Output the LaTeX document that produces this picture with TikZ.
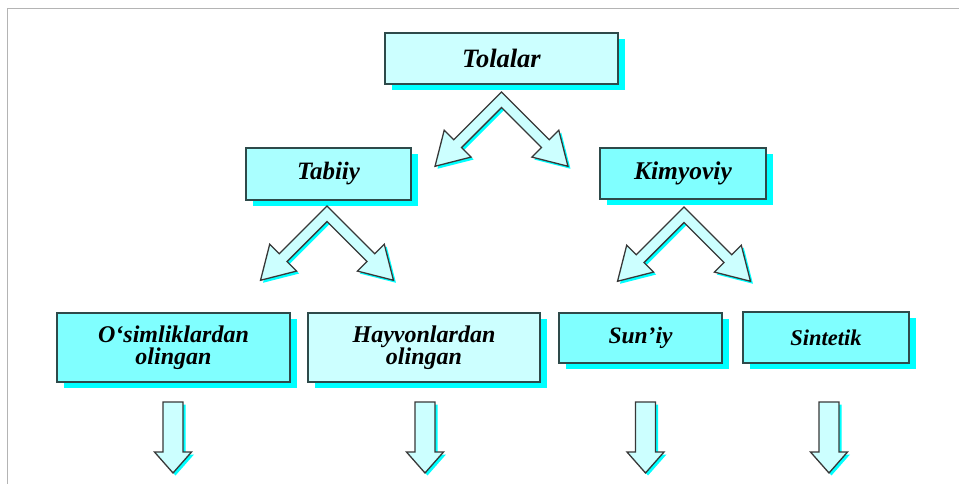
\documentclass[tikz,border=0pt]{standalone}
\usepackage{fontspec}
\setmainfont{Liberation Serif}
\usetikzlibrary{calc,shadows}

\definecolor{paleaqua}{HTML}{CCFFFF}
\definecolor{midaqua}{HTML}{AAFFFF}
\definecolor{deepaqua}{HTML}{80FFFF}
\definecolor{glow}{HTML}{00FFFF}
\definecolor{edgeteal}{HTML}{2E4A4A}
\definecolor{arrowline}{HTML}{383838}
\definecolor{framegray}{HTML}{B4B4B4}

\tikzset{
  box/.style={draw=edgeteal, line width=1.6pt, inner sep=0pt, align=center,
    font=\bfseries\itshape\fontsize{24}{22}\selectfont,
    general shadow={fill=glow, shadow xshift=7pt, shadow yshift=-6pt}},
  % outline of the twin block arrow, apex at the origin (y grows downward)
  chevronoutline/.style={insert path={(0,-7.78) -- (-47.73,39.95) -- (-57.28,30.41)
    -- (-66.47,66.47) -- (-30.41,57.28) -- (-39.95,47.73) -- (0,7.78)
    -- (39.95,47.73) -- (30.41,57.28) -- (66.47,66.47) -- (57.28,30.41)
    -- (47.73,39.95) -- cycle}},
  % outline of the single downward block arrow, top centre at the origin
  dropoutline/.style={insert path={(-10,0) -- (10,0) -- (10,50) -- (18.5,50)
    -- (0,71) -- (-18.5,50) -- (-10,50) -- cycle}},
  blockarrow/.style={fill=paleaqua, draw=arrowline, line width=1.3pt, line join=miter},
  pics/chevron/.style={code={
    \path[shift={(2.5,2.5)}, fill=glow, chevronoutline];
    \path[blockarrow, chevronoutline];
  }},
  pics/dropper/.style={code={
    \path[shift={(2.5,2.5)}, fill=glow, dropoutline];
    \path[blockarrow, dropoutline];
  }},
}

\begin{document}
\begin{tikzpicture}[x=1pt, y=-1pt]
  \useasboundingbox (0,0) rectangle (959,484);

  % page frame
  \draw[framegray, line width=1.6pt] (7.5,484) -- (7.5,8.5) -- (959,8.5);

  % boxes
  \node[box, fill=paleaqua, minimum width=233pt, minimum height=51pt,
        font=\bfseries\itshape\fontsize{26.5}{24}\selectfont]
        (tolalar) at (501.5,58.5) {Tolalar};
  \node[box, fill=midaqua, minimum width=165pt, minimum height=52pt,
        font=\bfseries\itshape\fontsize{25}{24}\selectfont]
        (tabiiy) at (328.5,174) {Tabiiy};
  \node[box, fill=deepaqua, minimum width=166pt, minimum height=51pt,
        font=\bfseries\itshape\fontsize{25.5}{24}\selectfont]
        (kimyo) at (683,173.5) {Kimyoviy};
  \node[box, fill=deepaqua, minimum width=233pt, minimum height=69pt]
        (osim) at (173.5,347.5) {O‘simliklardan\\olingan};
  \node[box, fill=paleaqua, minimum width=232pt, minimum height=69pt]
        (hayv) at (424,347.5) {Hayvonlardan\\olingan};
  \node[box, fill=deepaqua, minimum width=163pt, minimum height=50pt,
        font=\bfseries\itshape\fontsize{23.5}{22}\selectfont]
        (suniy) at (640.5,338) {Sun’iy};
  \node[box, fill=deepaqua, minimum width=166pt, minimum height=51pt,
        font=\bfseries\itshape\fontsize{22.5}{22}\selectfont]
        (sint) at (826,337.5) {Sintetik};

  % twin arrows below the upper boxes
  \pic at ($(tolalar.south)+(0,15)$) {chevron};
  \pic at ($(tabiiy.south)+(-1.5,13)$) {chevron};
  \pic at ($(kimyo.south)+(1,15)$) {chevron};

  % single arrows below the lowest row
  \coordinate (dropline) at (0,402);
  \pic at ($(osim.south |- dropline)+(-0.5,0)$) {dropper};
  \pic at ($(hayv.south |- dropline)+(1,0)$) {dropper};
  \pic at ($(suniy.south |- dropline)+(5,0)$) {dropper};
  \pic at ($(sint.south |- dropline)+(3,0)$) {dropper};
\end{tikzpicture}
\end{document}
